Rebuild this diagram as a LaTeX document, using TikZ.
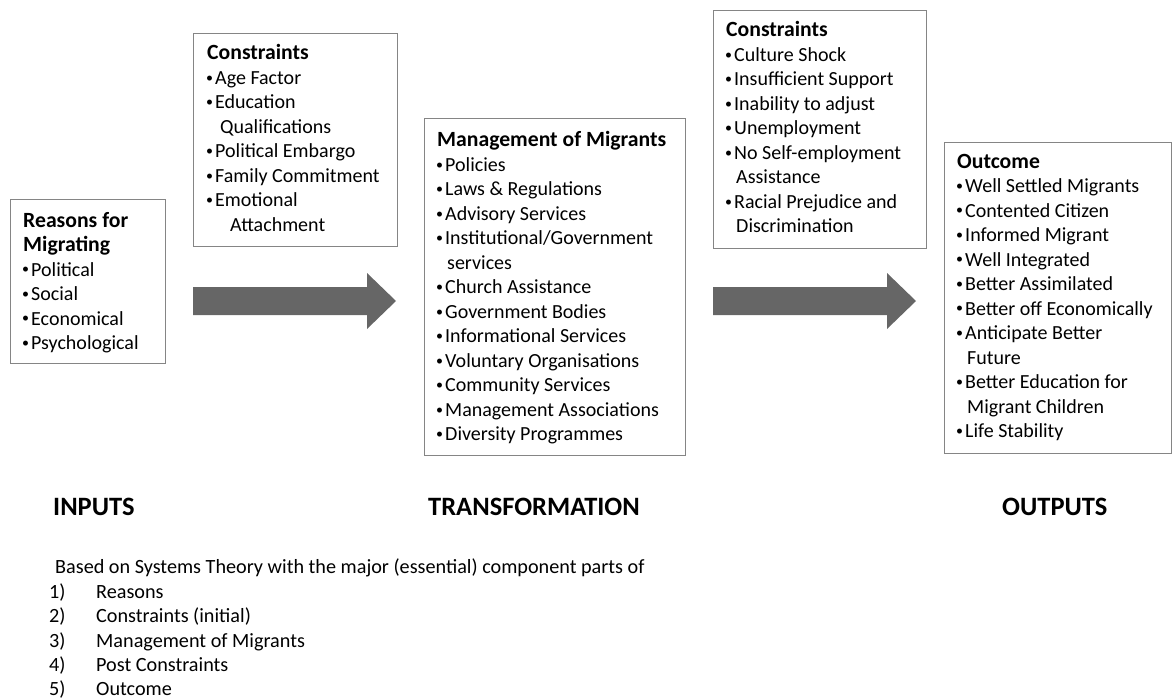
\documentclass[tikz,border=0pt]{standalone}
\usepackage{fontspec}
\setmainfont{Carlito}
\usepackage{graphicx}

% small list bullet, set a little above the middle of the lower-case letters
\newcommand{\bul}{\makebox[8pt][l]{\hspace*{-1pt}\raisebox{2.4pt}{\scalebox{0.7}{•}}}}
% bold heading line of a box
\newcommand{\head}[1]{{\fontsize{21.7}{24.5}\selectfont\bfseries #1}}
% block of left-aligned lines whose first baseline sits on the node's base anchor
\newcommand{\itemblock}[1]{\parbox[t]{260pt}{\fontsize{20}{24.5}\selectfont\raggedright #1}}

\definecolor{boxline}{HTML}{858585}
\definecolor{arrowgray}{HTML}{666666}

\tikzset{
  panel/.style={draw=boxline, line width=1.4pt, fill=white, rectangle, inner sep=0pt, anchor=north west},
  itemtext/.style={anchor=base west, inner sep=0pt},
  phase/.style={anchor=base west, inner sep=0pt, font=\fontsize{26.5}{30}\selectfont\bfseries},
  notes/.style={anchor=base west, inner sep=0pt, font=\fontsize{20.2}{24.4}\selectfont},
  flow/.style={fill=arrowgray}
}

% wide block arrow: tail x, head-base x, tip x, centre y
\newcommand{\blockarrow}[4]{%
  \fill[flow] (#1,#4-14) -- (#2,#4-14) -- (#2,#4-28) -- (#3,#4)
              -- (#2,#4+28) -- (#2,#4+14) -- (#1,#4+14) -- cycle;}

\begin{document}
\begin{tikzpicture}[x=1pt, y=-1pt]
\useasboundingbox (0,0) rectangle (1173,698);

% ---------- boxes ----------
\node[panel, minimum width=155pt, minimum height=164pt] (reasons) at (10,199) {};
\node[panel, minimum width=204pt, minimum height=213pt] (precon) at (193,33) {};
\node[panel, minimum width=261pt, minimum height=337pt] (manage) at (424,118) {};
\node[panel, minimum width=213pt, minimum height=238pt] (postcon) at (713,10) {};
\node[panel, minimum width=227pt, minimum height=311pt] (outcome) at (944,142) {};

% ---------- box contents ----------
\node[itemtext] (reasonsText) at (23,227) {\itemblock{%
\head{Reasons for}\\
\head{Migrating}\\
\bul Political\\
\bul Social\\
\bul Economical\\
\bul Psychological}};

\node[itemtext] (preconText) at (207,60) {\itemblock{%
\head{Constraints}\\
\bul Age Factor\\
\bul Education\\
\hspace*{13pt}Qualifications\\
\bul Political Embargo\\
\bul Family Commitment\\
\bul Emotional\\
\hspace*{23pt}Attachment}};

\node[itemtext] (manageText) at (437,147) {\itemblock{%
\head{Management of Migrants}\\
\bul Policies\\
\bul Laws \& Regulations\\
\bul Advisory Services\\
\bul Institutional/Government\\
\hspace*{10pt}services\\
\bul Church Assistance\\
\bul Government Bodies\\
\bul Informational Services\\
\bul Voluntary Organisations\\
\bul Community Services\\
\bul Management Associations\\
\bul Diversity Programmes}};

\node[itemtext] (postconText) at (726,37) {\itemblock{%
\head{Constraints}\\
\bul Culture Shock\\
\bul Insufficient Support\\
\bul Inability to adjust\\
\bul Unemployment\\
\bul No Self-employment\\
\hspace*{10pt}Assistance\\
\bul Racial Prejudice and\\
\hspace*{10pt}Discrimination}};

\node[itemtext] (outcomeText) at (957,168) {\itemblock{%
\head{Outcome}\\
\bul Well Settled Migrants\\
\bul Contented Citizen\\
\bul Informed Migrant\\
\bul Well Integrated\\
\bul Better Assimilated\\
\bul Better off Economically\\
\bul Anticipate Better\\
\hspace*{10pt}Future\\
\bul Better Education for\\
\hspace*{10pt}Migrant Children\\
\bul Life Stability}};

% ---------- flow arrows ----------
\blockarrow{193}{367}{396}{301}
\blockarrow{713}{887}{916}{301}

% ---------- phase labels ----------
\node[phase] (inputs) at (53,515) {INPUTS};
\node[phase] (transform) at (428,515) {TRANSFORMATION};
\node[phase] (outputs) at (1002,515) {OUTPUTS};

% ---------- notes ----------
\node[notes] (basis) at (55,573) {Based on Systems Theory with the major (essential) component parts of};
\node[notes] (n1) at (49,598) {1)};
\node[notes] (n2) at (49,622) {2)};
\node[notes] (n3) at (49,647) {3)};
\node[notes] (n4) at (49,671) {4)};
\node[notes] (n5) at (49,695) {5)};
\node[notes] (p1) at (96,598) {Reasons};
\node[notes] (p2) at (96,622) {Constraints (initial)};
\node[notes] (p3) at (96,647) {Management of Migrants};
\node[notes] (p4) at (96,671) {Post Constraints};
\node[notes] (p5) at (96,695) {Outcome};
\end{tikzpicture}
\end{document}
